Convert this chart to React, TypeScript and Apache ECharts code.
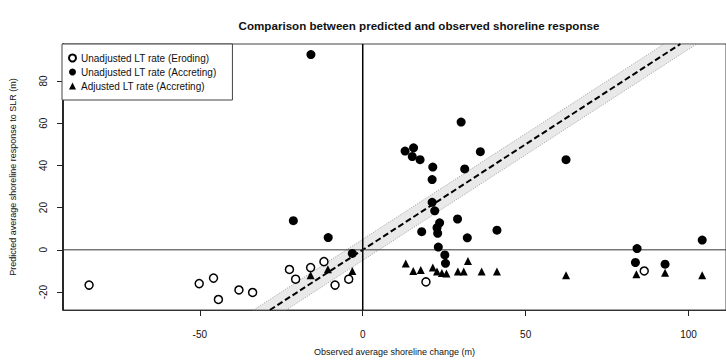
import React, { useEffect, useRef } from "react";
import * as echarts from "echarts";

// ---- Data ----
const erodingX = [-84, -50.2, -45.8, -44.3, -38, -33.8, -22.5, -20.6, -16, -11.9, -8.5, -4.3, 19.4, 86.4];
const erodingY = [-16.7, -16, -13.4, -23.5, -19, -20.2, -9.3, -13.9, -8.4, -5.6, -16.7, -13.9, -15.2, -10];

const accretingX = [-15.9, -21.3, -10.6, -3.2, 30.2, 13, 15.6, 15.2, 17.6, 36.1, 21.5, 31.3, 21.3, 21.3, 22.1, 29.1, 23.6, 22.8, 23, 18.1, 32.1, 41.2, 23.2, 25.2, 25.4, 62.4, 84.2, 83.7, 92.8, 104.2];
const accretingY = [92.5, 13.8, 5.8, -1.7, 60.5, 46.8, 48.3, 44.2, 42.7, 46.5, 39.2, 38.3, 33.3, 22.5, 18.5, 14.6, 12.8, 10.5, 7.8, 8.6, 5.7, 9.3, 1.3, -2.4, -6.4, 42.7, 0.6, -6, -6.8, 4.6];

const adjustedX = [-16, -10.7, -3.2, 13.2, 15.5, 17.8, 21.5, 22.8, 24.3, 25.7, 29.2, 31, 32.3, 36.5, 41.2, 62.4, 84, 92.8, 104.2];
const adjustedY = [-12, -9.2, -10, -6.5, -10, -9.5, -8.4, -10.3, -11, -11.2, -10.3, -10.3, -5.3, -10.3, -10.3, -12, -11.6, -10.8, -12];

const xTicks = [-50, 0, 50, 100];
const yTicks = [-20, 0, 20, 40, 60, 80];
const xRange = [-92, 111.5];
const yRange = [-28.5, 97.5];
const bandHalfWidth = 5;

const seriesNames = [
  "Unadjusted LT rate (Eroding)",
  "Unadjusted LT rate (Accreting)",
  "Adjusted LT rate (Accreting)",
];
const titleText = "Comparison between predicted and observed shoreline response";
const xTitle = "Observed average shoreline change (m)";
const yTitle = "Predicted average shoreline response to SLR (m)";

const zip = (xs: number[], ys: number[]) => xs.map((x, i) => [x, ys[i]]);

const FONT = '"Liberation Sans", Arial, sans-serif';

export default function App() {
  const ref = useRef<HTMLDivElement>(null);

  useEffect(() => {
    document.body.style.margin = "0";
    if (!ref.current) return;
    const chart = echarts.init(ref.current, undefined, { renderer: "svg" });

    const [yMin, yMax] = yRange;
    const [xMin, xMax] = xRange;
    const w = bandHalfWidth;

    const option: any = {
      animation: false,
      backgroundColor: "#ffffff",
      title: {
        text: titleText,
        left: 414,
        top: 14,
        textAlign: "center",
        textStyle: { fontFamily: FONT, fontSize: 11.6, fontWeight: "bold", color: "#111" },
      },
      grid: {
        left: 62,
        top: 44,
        width: 668,
        height: 266,
        show: true,
        borderColor: "#444",
        borderWidth: 1,
      },
      legend: {
        data: [
          { name: seriesNames[0], icon: "circle" },
          { name: seriesNames[1], icon: "circle", itemStyle: { color: "#000" } },
          { name: seriesNames[2], icon: "triangle" },
        ],
        orient: "vertical",
        left: 62,
        top: 44,
        padding: [8, 16, 8, 6],
        itemGap: 2,
        itemWidth: 7,
        itemHeight: 7,
        backgroundColor: "#ffffff",
        borderColor: "#444",
        borderWidth: 1,
        textStyle: { fontFamily: FONT, fontSize: 10, color: "#111", lineHeight: 12 },
      },
      xAxis: {
        type: "value",
        min: xMin,
        max: xMax,
        axisLine: { show: true, onZero: false, lineStyle: { color: "#333", width: 1 } },
        axisTick: { show: true, length: 6, customValues: xTicks, lineStyle: { color: "#222" } },
        axisLabel: { customValues: xTicks, fontFamily: FONT, fontSize: 10, color: "#111", margin: 19 },
        splitLine: { show: false },
        name: xTitle,
        nameLocation: "middle",
        nameGap: 37,
        nameTextStyle: { fontFamily: FONT, fontSize: 9, color: "#111" },
      },
      yAxis: {
        type: "value",
        min: yMin,
        max: yMax,
        axisLine: { show: true, onZero: false, lineStyle: { color: "#000", width: 1.5 } },
        axisTick: { show: true, length: 6, customValues: yTicks, lineStyle: { color: "#222" } },
        axisLabel: { customValues: yTicks, rotate: 90, fontFamily: FONT, fontSize: 10, color: "#111", margin: 15 },
        splitLine: { show: false },
        name: yTitle,
        nameLocation: "middle",
        nameRotate: 90,
        nameGap: 46,
        nameTextStyle: { fontFamily: FONT, fontSize: 9, color: "#111" },
      },
      series: [
        {
          type: "custom",
          name: "band",
          silent: true,
          z: 1,
          data: [[0, 0]],
          encode: { x: 0, y: 1 },
          renderItem: (_params: any, api: any) => {
            const corners = [
              [yMin - w, yMin],
              [yMin + w, yMin],
              [yMax + w, yMax],
              [yMax - w, yMax],
            ].map((p) => api.coord(p));
            return {
              type: "polygon",
              shape: { points: corners },
              style: { fill: "rgba(200,200,200,0.4)", stroke: "#888", lineWidth: 0.8, lineDash: [1, 1.5] },
            };
          },
        },
        {
          type: "line",
          name: "oneToOne",
          silent: true,
          z: 2,
          symbol: "none",
          data: [
            [yMin, yMin],
            [yMax, yMax],
          ],
          lineStyle: { color: "#000", width: 2, type: [6, 3] },
        },
        {
          type: "line",
          name: "xZero",
          silent: true,
          z: 2,
          symbol: "none",
          data: [
            [0, yMin],
            [0, yMax],
          ],
          lineStyle: { color: "#000", width: 1.5 },
        },
        {
          type: "line",
          name: "yZero",
          silent: true,
          z: 2,
          symbol: "none",
          data: [
            [xMin, 0],
            [xMax, 0],
          ],
          lineStyle: { color: "#333", width: 1 },
        },
        {
          type: "scatter",
          name: seriesNames[0],
          z: 3,
          symbol: "circle",
          symbolSize: 8,
          data: zip(erodingX, erodingY),
          itemStyle: { color: "#fff", borderColor: "#000", borderWidth: 1.5, opacity: 1 },
        },
        {
          type: "scatter",
          name: seriesNames[1],
          z: 4,
          symbol: "circle",
          symbolSize: 9,
          data: zip(accretingX, accretingY),
          itemStyle: { color: "#000", opacity: 1 },
        },
        {
          type: "scatter",
          name: seriesNames[2],
          z: 5,
          symbol: "triangle",
          symbolSize: 8,
          data: zip(adjustedX, adjustedY),
          itemStyle: { color: "#000", opacity: 1 },
        },
      ],
    };

    chart.setOption(option);
    return () => chart.dispose();
  }, []);

  return <div ref={ref} style={{ width: 726, height: 363 }} />;
}
